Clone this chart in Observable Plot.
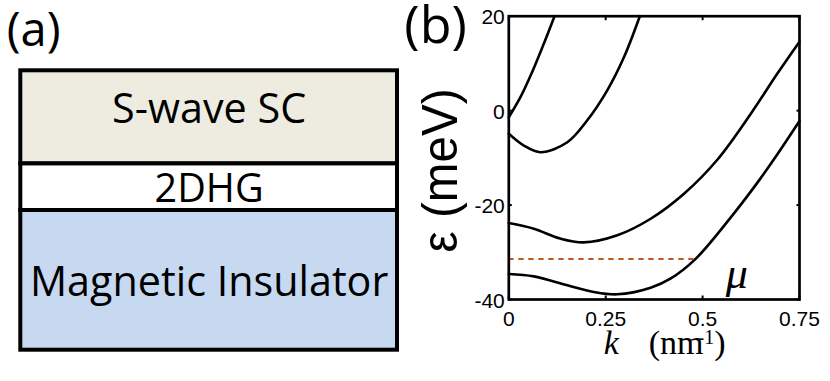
<!DOCTYPE html>
<html>
<head>
<meta charset="utf-8">
<script src="https://cdn.jsdelivr.net/npm/d3@7"></script>
<script src="https://cdn.jsdelivr.net/npm/@observablehq/plot@0.6"></script>
<style>
  html, body { margin: 0; padding: 0; background: #fff; }
  #fig { display: flex; flex-direction: row; width: 830px; height: 381px; overflow: hidden; }
  #fig svg { display: block; overflow: visible; }
</style>
</head>
<body>
<div id="fig"><div id="pa"></div><div id="pb"></div></div>
<script>
// ---------- Panel (a): heterostructure layers ----------
const layerNames = ["S-wave SC", "2DHG", "Magnetic Insulator"];
const layerThickness = [2, 1, 3];
const layerFills = ["#EEECE1", "#FFFFFF", "#C6D9F1"];
const panelLabels = ["(a)", "(b)"];

// ---------- Panel (b): band structure, k (nm^-1) vs energy (meV) ----------
const band1 = [[0, -1.4], [0.03, 2.85], [0.062, 8.5], [0.09, 14.1], [0.118, 20]];
const band2 = [[0, -4.9], [0.039, -7.4], [0.082, -8.8], [0.151, -6.7], [0.202, -2.1], [0.254, 4.3], [0.297, 11.3], [0.338, 20]];
const band3 = [[0, -23.8], [0.0645, -25.0], [0.133, -27.1], [0.1935, -27.9], [0.28, -26.4], [0.366, -22.9], [0.452, -17.6], [0.538, -10.4], [0.624, -0.7], [0.6925, 7.8], [0.75, 14.6]];
const band4 = [[0, -34.6], [0.0645, -35.1], [0.151, -37.0], [0.219, -38.4], [0.28, -38.9], [0.366, -37.5], [0.417, -35.6], [0.482, -31.4], [0.5805, -21.8], [0.649, -14.4], [0.6925, -9.3], [0.75, -2.2]];
const bands = [band1, band2, band3, band4];
const chemicalPotential = -31.4;   // μ (meV)
const chemicalPotentialK = 0.482;  // where μ meets the lowest band
const muLabel = {text: "μ", k: 0.588, e: -34.6};
const xTicks = [0, 0.25, 0.5, 0.75];
const xTickLabels = ["0", "0.25", "0.5", "0.75"];
const yTicks = [-40, -20, 0, 20];
const yTickLabels = ["-40", "-20", "0", "20"];
const yLabel = "ε (meV)";
const xLabelVar = "k";
const xUnitBase = "(nm";
const xUnitSup = "-1";
const xUnitClose = ")";

// build layer table
let acc = 0;
const layers = layerNames.map((name, i) => {
  const y1 = acc; acc += layerThickness[i];
  return {name, y1, y2: acc, mid: (y1 + acc) / 2, fill: layerFills[i]};
});

const sansA = "'Open Sans', Lato, sans-serif";
const arialLike = "'Liberation Sans', Arial, sans-serif";
const timesLike = "'Liberation Serif', 'Times New Roman', serif";

const plotA = Plot.plot({
  width: 400, height: 381,
  marginLeft: 20.3, marginRight: 3, marginTop: 70.3, marginBottom: 31.3,
  x: {domain: [0, 1], axis: null},
  y: {domain: [0, acc], reverse: true, axis: null},
  color: {type: "identity"},
  marks: [
    Plot.rect(layers, {x1: 0, x2: 1, y1: "y1", y2: "y2", fill: "fill", stroke: "black", strokeWidth: 4}),
    Plot.text(layers, {filter: d => d.name === layerNames[0], x: 0.5, y: "mid", text: "name", dy: -7.9, fontSize: 41.3, fontFamily: sansA, fill: "black"}),
    Plot.text(layers, {filter: d => d.name === layerNames[1], x: 0.5, y: "mid", text: "name", dy: 2.3, fontSize: 39.5, fontFamily: sansA, fill: "black"}),
    Plot.text(layers, {filter: d => d.name === layerNames[2], x: 0.5, y: "mid", text: "name", dy: 2.4, fontSize: 41.3, fontFamily: sansA, fill: "black"}),
    Plot.text([panelLabels[0]], {text: d => d, frameAnchor: "top-left", textAnchor: "start", lineAnchor: "top", dx: -14.1, dy: -58, fontSize: 47, fontFamily: sansA, fill: "black"})
  ]
});
document.getElementById("pa").appendChild(plotA);

const bandMarks = bands.map(b => Plot.line(b, {x: d => d[0], y: d => d[1], stroke: "black", strokeWidth: 2.6, curve: "catmull-rom"}));

const plotB = Plot.plot({
  width: 430, height: 381,
  marginLeft: 108.3, marginRight: 31, marginTop: 15.7, marginBottom: 82,
  x: {domain: [0, 0.75], axis: null},
  y: {domain: [-40, 20], axis: null},
  style: {fontFamily: arialLike, color: "black", overflow: "visible"},
  marks: [
    ...bandMarks,
    Plot.ruleY([chemicalPotential], {x1: 0, x2: chemicalPotentialK, stroke: "#C0561C", strokeWidth: 2, strokeDasharray: "5.3,4.7"}),
    Plot.frame({stroke: "black", strokeWidth: 2.7}),
    // inward ticks on all four sides
    Plot.axisX(xTicks, {anchor: "bottom", tickSize: -3.5, fill: "none", stroke: "black", strokeWidth: 2, label: null}),
    Plot.axisX(xTicks, {anchor: "top", tickSize: -3.5, fill: "none", stroke: "black", strokeWidth: 2, label: null}),
    Plot.axisY(yTicks, {anchor: "left", tickSize: -3.5, fill: "none", stroke: "black", strokeWidth: 2, label: null}),
    Plot.axisY(yTicks, {anchor: "right", tickSize: -3.5, fill: "none", stroke: "black", strokeWidth: 2, label: null}),
    // tick labels
    Plot.axisX(xTicks, {anchor: "bottom", tickSize: 0, tickPadding: 12, fontSize: 21, fill: "black", tickFormat: (d) => xTickLabels[xTicks.indexOf(d)], label: null}),
    Plot.axisY(yTicks, {anchor: "left", tickSize: 0, tickPadding: 4, dy: 1.5, fontSize: 21, fill: "black", tickFormat: (d) => yTickLabels[yTicks.indexOf(d)], label: null}),
    // axis titles
    Plot.text([yLabel], {text: d => d, frameAnchor: "left", rotate: -90, dx: -68.3, dy: 12.6, textAnchor: "middle", lineAnchor: "middle", fontSize: 50, fontFamily: arialLike, fill: "black"}),
    Plot.text([xLabelVar], {text: d => d, frameAnchor: "bottom", textAnchor: "start", lineAnchor: "middle", dx: -50.4, dy: 44, fontSize: 34, fontStyle: "italic", fontFamily: timesLike, fill: "black"}),
    Plot.text([xUnitBase + xUnitSup + xUnitClose], {text: d => d, frameAnchor: "bottom", textAnchor: "start", lineAnchor: "middle", dx: -5.4, dy: 44, fontSize: 34, fontFamily: timesLike, fill: "black"}),
    Plot.text([muLabel], {x: "k", y: "e", text: "text", textAnchor: "middle", lineAnchor: "middle", fontSize: 44, fontStyle: "italic", fontFamily: timesLike, fill: "black"}),
    Plot.text([panelLabels[1]], {text: d => d, frameAnchor: "top-left", textAnchor: "start", lineAnchor: "top", dx: -104.5, dy: -9.9, fontSize: 52, fontFamily: sansA, fill: "black"})
  ]
});
document.getElementById("pb").appendChild(plotB);

// typographic touches: condensed y label (as in the reference), superscript unit
d3.select(plotB).selectAll("text")
  .filter(function () { return this.textContent === yLabel; })
  .each(function () {
    const L = this.getComputedTextLength();
    if (L > 0) {
      const tr = this.getAttribute("transform") || "";
      this.setAttribute("transform", tr + ` scale(${164 / L},1)`);
    }
  });
d3.select(plotB).selectAll("text")
  .filter(function () { return this.textContent === xUnitBase + xUnitSup + xUnitClose; })
  .each(function () {
    const t = d3.select(this);
    t.text(null);
    t.append("tspan").text(xUnitBase);
    t.append("tspan").attr("dx", -6).attr("dy", -10).attr("font-size", 20).text(xUnitSup);
    t.append("tspan").attr("dy", 10).text(xUnitClose);
  });
</script>
</body>
</html>
